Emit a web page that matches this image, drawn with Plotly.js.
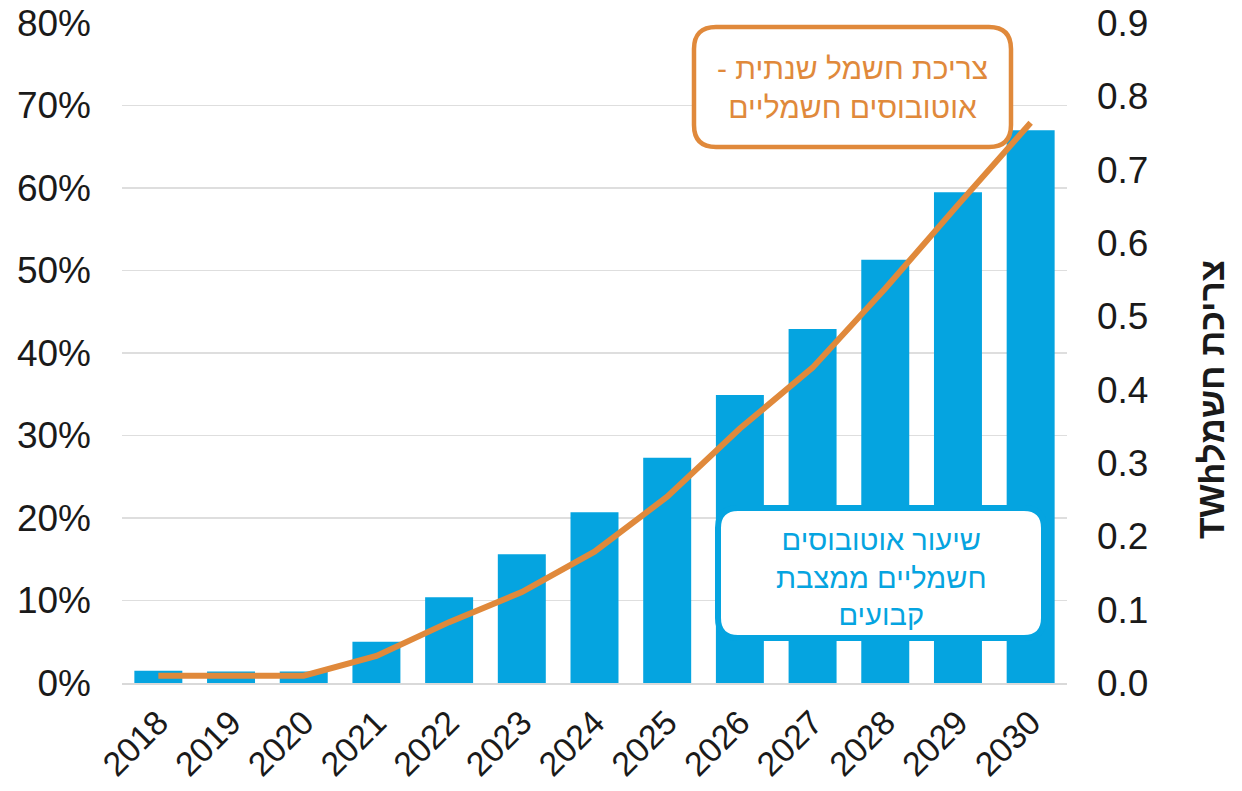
<!DOCTYPE html>
<html>
<head>
<meta charset="utf-8">
<script src="https://cdn.plot.ly/plotly-3.0.1.min.js"></script>
<style>html,body{margin:0;padding:0;background:#fff;}#chart{width:1242px;height:791px;}</style>
</head>
<body>
<div id="chart"></div>
<script>
const years = ['2018','2019','2020','2021','2022','2023','2024','2025','2026','2027','2028','2029','2030'];
const busShare = [1.5, 1.4, 1.4, 5.0, 10.4, 15.6, 20.7, 27.3, 34.9, 42.9, 51.3, 59.5, 67.0];
const consumptionTWh = [0.010, 0.010, 0.010, 0.037, 0.083, 0.124, 0.179, 0.254, 0.347, 0.430, 0.538, 0.652, 0.764];
const leftTickVals = [0,10,20,30,40,50,60,70,80];
const leftTickText = ['0%','10%','20%','30%','40%','50%','60%','70%','80%'];
const rightTickVals = [0,0.1,0.2,0.3,0.4,0.5,0.6,0.7,0.8,0.9];
const rightTickText = ['0.0','0.1','0.2','0.3','0.4','0.5','0.6','0.7','0.8','0.9'];
const lineLabel = ['צריכת חשמל שנתית -', 'אוטובוסים חשמליים'];
const barLabel = ['שיעור אוטובוסים', 'חשמליים ממצבת', 'קבועים'];
const rightTitle = 'צריכת חשמלTWh';

const W = 1242, H = 791;
const M = {l:122, r:175, t:23, b:108};
const PW = W - M.l - M.r, PH = H - M.t - M.b;
const FONT = 'Liberation Sans, Arial, sans-serif';
const BLUE = '#05A4E0', ORANGE = '#E0893B';

function px(X){ return (X - M.l) / PW; }
function py(Y){ return (H - M.b - Y) / PH; }
function roundRect(x0, y0, x1, y1, r){
  const p = (X, Y) => px(X).toFixed(5) + ',' + py(Y).toFixed(5);
  return 'M' + p(x0 + r, y0) +
    ' L' + p(x1 - r, y0) + ' Q' + p(x1, y0) + ' ' + p(x1, y0 + r) +
    ' L' + p(x1, y1 - r) + ' Q' + p(x1, y1) + ' ' + p(x1 - r, y1) +
    ' L' + p(x0 + r, y1) + ' Q' + p(x0, y1) + ' ' + p(x0, y1 - r) +
    ' L' + p(x0, y0 + r) + ' Q' + p(x0, y0) + ' ' + p(x0 + r, y0) + ' Z';
}
const rtl = s => '\u202B' + s + '\u202C';

const data = [
  {
    type: 'bar', x: years, y: busShare, yaxis: 'y',
    marker: {color: BLUE}, width: 0.66, hoverinfo: 'skip'
  },
  {
    type: 'scatter', mode: 'lines', x: years, y: consumptionTWh, yaxis: 'y2',
    line: {color: ORANGE, width: 6}, hoverinfo: 'skip'
  }
];

const layout = {
  width: W, height: H,
  margin: M,
  paper_bgcolor: '#fff', plot_bgcolor: '#fff',
  showlegend: false,
  font: {family: FONT, color: '#1a1a1a'},
  xaxis: {
    type: 'category', tickangle: -45,
    tickfont: {size: 34, family: FONT, color: '#1a1a1a'},
    ticks: '', showgrid: false, zeroline: false,
    showline: true, linecolor: '#d9d9d9', linewidth: 2,
    ticklabelstandoff: 4
  },
  yaxis: {
    range: [0, 80], tickvals: leftTickVals, ticktext: leftTickText,
    tickfont: {size: 37, family: FONT, color: '#1a1a1a'},
    ticks: '', showgrid: true, gridcolor: '#dedede', gridwidth: 1.5,
    zeroline: false, showline: false, ticklabelstandoff: 30
  },
  yaxis2: {
    overlaying: 'y', side: 'right',
    range: [0, 0.9], tickvals: rightTickVals, ticktext: rightTickText,
    tickfont: {size: 37, family: FONT, color: '#1a1a1a'},
    ticks: '', showgrid: false, zeroline: false, showline: false,
    ticklabelstandoff: 29
  },
  shapes: [
    {type: 'path', xref: 'paper', yref: 'paper', layer: 'above',
     path: roundRect(694, 27, 1011, 147, 22),
     fillcolor: '#ffffff', line: {color: ORANGE, width: 4.5}},
    {type: 'path', xref: 'paper', yref: 'paper', layer: 'above',
     path: roundRect(718, 508, 1044, 638, 20),
     fillcolor: '#ffffff', line: {color: BLUE, width: 6}}
  ],
  annotations: [
    {xref: 'paper', yref: 'paper', x: px(852), y: py(88),
     xanchor: 'center', yanchor: 'middle', showarrow: false,
     text: lineLabel.map(rtl).join('<br>'), align: 'center',
     font: {family: FONT, size: 30, color: ORANGE}},
    {xref: 'paper', yref: 'paper', x: px(881), y: py(577),
     xanchor: 'center', yanchor: 'middle', showarrow: false,
     text: barLabel.map(rtl).join('<br>'), align: 'center',
     font: {family: FONT, size: 29, color: BLUE}},
    {xref: 'paper', yref: 'paper', x: px(1211), y: py(400),
     xanchor: 'center', yanchor: 'middle', showarrow: false,
     textangle: -90, text: '<b>' + rtl(rightTitle) + '</b>',
     font: {family: FONT, size: 35, color: '#1a1a1a'}}
  ]
};

Plotly.newPlot('chart', data, layout, {displayModeBar: false, staticPlot: true});
</script>
</body>
</html>
